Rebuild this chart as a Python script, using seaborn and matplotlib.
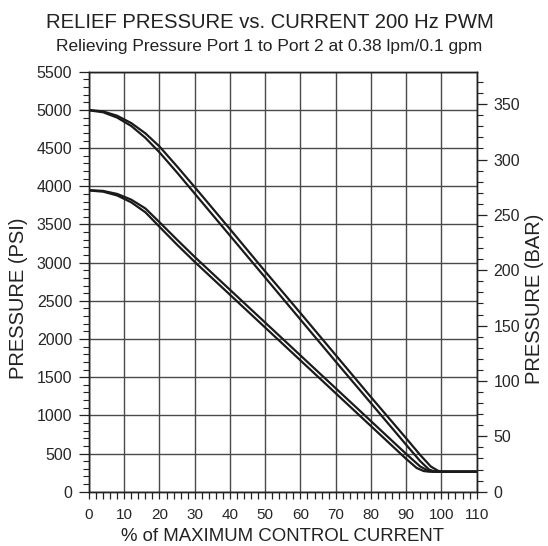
import matplotlib
matplotlib.use('Agg')
import matplotlib.pyplot as plt
from matplotlib.ticker import MultipleLocator
import seaborn as sns
import pandas as pd

# curves: % of max current vs relief pressure (psi)
upper_hi_x = [0, 4, 8, 12, 16, 20, 25, 30, 40, 50, 60, 70, 80, 90, 94, 97, 99, 100, 110]
upper_hi_y = [5000, 4981, 4924, 4828, 4694, 4522, 4260, 3990, 3440, 2885, 2340, 1790, 1240, 700, 480, 330, 275, 262, 262]

upper_lo_x = [0, 4, 8, 12, 16, 20, 25, 30, 40, 50, 60, 70, 80, 90, 94, 96.5, 98, 99, 110]
upper_lo_y = [4995, 4970, 4900, 4790, 4635, 4445, 4180, 3905, 3355, 2805, 2255, 1705, 1160, 615, 400, 290, 265, 262, 262]

lower_hi_x = [0, 4, 8, 12, 16, 20, 25, 30, 40, 50, 60, 70, 80, 90, 94, 96, 97.5, 110]
lower_hi_y = [3950, 3940, 3900, 3825, 3710, 3530, 3300, 3075, 2645, 2215, 1785, 1355, 925, 495, 330, 280, 262, 262]

lower_lo_x = [0, 4, 8, 12, 16, 20, 25, 30, 40, 50, 60, 70, 80, 90, 93, 95, 96.5, 110]
lower_lo_y = [3945, 3930, 3880, 3790, 3660, 3470, 3235, 3010, 2580, 2150, 1720, 1290, 860, 430, 310, 270, 262, 262]

x_ticks = list(range(0, 111, 10))
psi_ticks = list(range(0, 5501, 500))
bar_ticks = list(range(0, 351, 50))
PSI_PER_BAR = 14.5038

sns.set_style('white')
plt.rcParams['font.family'] = ['Liberation Sans', 'DejaVu Sans']

fig = plt.figure(figsize=(5.48, 5.46), dpi=100)
ax = fig.add_axes([0.1624, 0.0995, 0.7073, 0.769])

curves = [(upper_hi_x, upper_hi_y), (upper_lo_x, upper_lo_y),
          (lower_hi_x, lower_hi_y), (lower_lo_x, lower_lo_y)]
for cx, cy in curves:
    df = pd.DataFrame({'x': cx, 'y': cy})
    sns.lineplot(data=df, x='x', y='y', color='#1a1a1a', lw=1.6,
                 estimator=None, sort=False, ax=ax, zorder=3)

ax.set_xlim(0, 110)
ax.set_ylim(0, 5500)
ax.set_xticks(x_ticks)
ax.set_yticks(psi_ticks)
ax.xaxis.set_minor_locator(MultipleLocator(2))
ax.yaxis.set_minor_locator(MultipleLocator(100))
ax.grid(True, which='major', color='#4a4a4a', lw=1.0)
ax.tick_params(axis='x', which='both', direction='out', length=5, width=0.9,
               color='#222222', labelsize=11, pad=7, bottom=True)
ax.tick_params(axis='y', which='major', direction='out', length=7, width=0.9,
               color='#222222', labelsize=11.5, pad=5, left=True)
ax.tick_params(axis='y', which='minor', direction='out', length=4, width=0.8,
               color='#222222', left=True)
for s in ax.spines.values():
    s.set_color('#222222')
    s.set_linewidth(1.0)
ax.set_xlabel('% of MAXIMUM CONTROL CURRENT', fontsize=13.4, color='#222222')
ax.xaxis.set_label_coords(0.5, -0.086)
ax.set_ylabel('PRESSURE (PSI)', fontsize=14.5, color='#222222')
ax.yaxis.set_label_coords(-0.158, 0.46)

ax2 = ax.twinx()
ax2.set_ylim(0, 5500 / PSI_PER_BAR)
ax2.set_yticks(bar_ticks)
ax2.yaxis.set_minor_locator(MultipleLocator(10))
ax2.grid(False)
ax2.tick_params(axis='y', which='major', direction='out', length=7, width=0.9,
                color='#222222', labelsize=11.5, pad=5, right=True)
ax2.tick_params(axis='y', which='minor', direction='out', length=4, width=0.8,
                color='#222222', right=True)
for s in ax2.spines.values():
    s.set_color('#222222')
    s.set_linewidth(1.0)
ax2.set_ylabel('PRESSURE (BAR)', fontsize=14.5, color='#222222')
ax2.yaxis.set_label_coords(1.124, 0.46)

fig.text(0.492, 0.958, 'RELIEF PRESSURE vs. CURRENT 200 Hz PWM',
         ha='center', va='center', fontsize=14.6, color='#222222')
fig.text(0.492, 0.915, 'Relieving Pressure Port 1 to Port 2 at 0.38 lpm/0.1 gpm',
         ha='center', va='center', fontsize=12.5, color='#222222')

fig.savefig('out.png', dpi=100)
